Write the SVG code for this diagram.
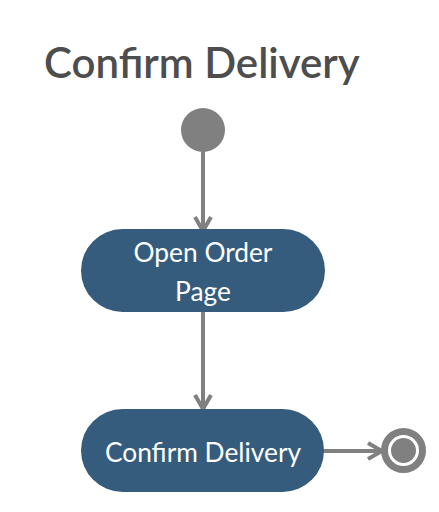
<svg xmlns="http://www.w3.org/2000/svg" width="439" height="512" viewBox="0 0 439 512">
<defs>
<style>
.title{font-family:Lato,"Liberation Sans",sans-serif;font-size:42px;font-weight:600;fill:#4d4d4d}
.node rect{fill:#355c7d}
.node text{font-family:Lato,"Liberation Sans",sans-serif;font-size:26.3px;fill:#ffffff;text-anchor:middle}
.edge{stroke:#808080;stroke-width:4;fill:none}
</style>
<marker id="arr" viewBox="0 0 20 20" refX="17" refY="10" markerWidth="20" markerHeight="20" markerUnits="userSpaceOnUse" orient="auto">
<path d="M3,2 L17,10 L3,18" fill="none" stroke="#808080" stroke-width="4"/>
</marker>
</defs>
<rect width="439" height="512" fill="#ffffff"/>
<text class="title" x="44" y="78">Confirm Delivery</text>
<g id="connectors">
<line class="edge" x1="203" y1="150" x2="203" y2="231" marker-end="url(#arr)"/>
<line class="edge" x1="203" y1="312" x2="203" y2="409" marker-end="url(#arr)"/>
<line class="edge" x1="322" y1="451" x2="382" y2="451" marker-end="url(#arr)"/>
</g>
<g id="start"><circle cx="203" cy="130" r="22" fill="#808080"/></g>
<g id="open-order-page" class="node">
<rect x="81" y="229" width="244" height="83" rx="41.5"/>
<text x="203" y="262">Open Order</text>
<text x="203" y="301">Page</text>
</g>
<g id="confirm-delivery" class="node">
<rect x="81" y="409" width="243" height="83" rx="41.5"/>
<text x="203" y="462">Confirm Delivery</text>
</g>
<g id="end">
<circle cx="403.5" cy="450.5" r="19" fill="#ffffff" stroke="#808080" stroke-width="7"/>
<circle cx="403.5" cy="450.5" r="12.5" fill="#808080"/>
</g>
</svg>
